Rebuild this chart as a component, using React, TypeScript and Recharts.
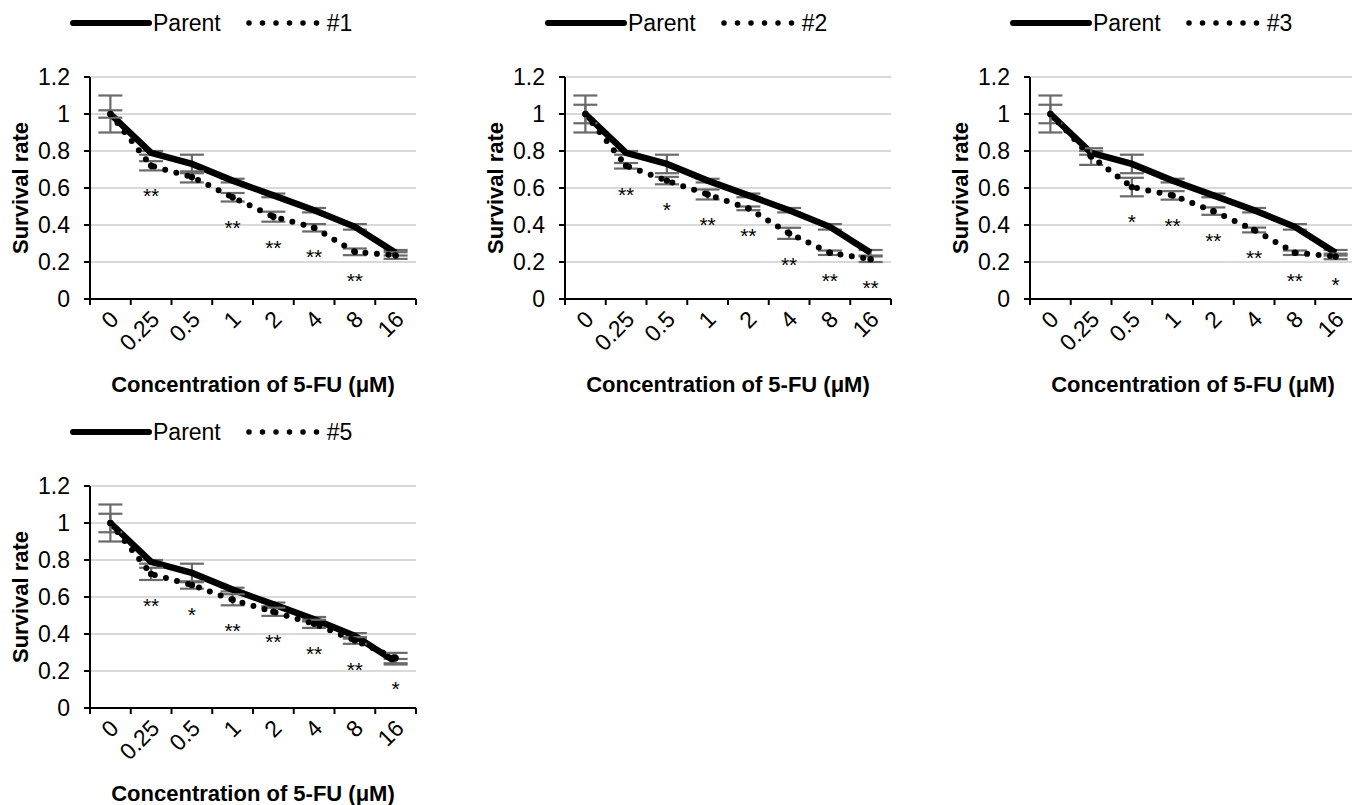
import { CartesianGrid, ErrorBar, Label, Legend, Line, LineChart, XAxis, YAxis } from "recharts";

const concentrations = ["0", "0.25", "0.5", "1", "2", "4", "8", "16"];

const parentRate = [1.0, 0.79, 0.73, 0.64, 0.56, 0.48, 0.39, 0.25];
const parentErr = [0.1, 0.01, 0.05, 0.01, 0.01, 0.012, 0.015, 0.015];

const clone1Rate = [1.0, 0.72, 0.66, 0.55, 0.445, 0.385, 0.255, 0.235];
const clone1Err = [0.02, 0.025, 0.03, 0.023, 0.027, 0.02, 0.018, 0.018];
const clone1Stars = ["", "**", "", "**", "**", "**", "**", ""];

const clone2Rate = [1.0, 0.72, 0.64, 0.565, 0.49, 0.355, 0.25, 0.215];
const clone2Err = [0.05, 0.015, 0.02, 0.027, 0.01, 0.03, 0.012, 0.015];
const clone2Stars = ["", "**", "*", "**", "**", "**", "**", "**"];

const clone3Rate = [1.0, 0.77, 0.605, 0.56, 0.475, 0.373, 0.25, 0.23];
const clone3Err = [0.05, 0.045, 0.05, 0.023, 0.02, 0.013, 0.012, 0.015];
const clone3Stars = ["", "", "*", "**", "**", "**", "**", "*"];

const clone5Rate = [1.0, 0.725, 0.665, 0.585, 0.52, 0.455, 0.365, 0.27];
const clone5Err = [0.05, 0.033, 0.02, 0.03, 0.022, 0.022, 0.018, 0.028];
const clone5Stars = ["", "**", "*", "**", "**", "**", "**", "*"];

const yTicks = [0, 0.2, 0.4, 0.6, 0.8, 1, 1.2];
const xTicks = Array.from({ length: 17 }, (_, i) => i / 2);

// layout
const CHART_W = 430;
const CHART_H = 409;
const PLOT_TOP = 77;
const PLOT_H = 222;
const Y_AXIS_W = 90;
const X_AXIS_H = 100;
const PX_PER_UNIT = PLOT_H / 1.2;
const FONT = '"Liberation Sans", Arial, sans-serif';
const ERR_GREY = "#6a6a6a";

const panels = [
  { name: "#1", rate: clone1Rate, err: clone1Err, stars: clone1Stars, left: 0, top: 0 },
  { name: "#2", rate: clone2Rate, err: clone2Err, stars: clone2Stars, left: 475, top: 0 },
  { name: "#3", rate: clone3Rate, err: clone3Err, stars: clone3Stars, left: 940, top: 0 },
  { name: "#5", rate: clone5Rate, err: clone5Err, stars: clone5Stars, left: 0, top: 409 },
];

const buildRows = (rate: number[], err: number[], stars: string[]) =>
  concentrations.map((c, i) => ({
    pos: i + 0.5,
    conc: c,
    parent: parentRate[i],
    parentErr: parentErr[i],
    clone: rate[i],
    cloneErr: err[i],
    stars: stars[i],
  }));

const ConcTick = (props: any) => {
  const { x, y, payload } = props;
  const v = payload.value as number;
  if (Number.isInteger(v)) {
    return <line x1={x} x2={x} y1={y - 6} y2={y} stroke="#000" strokeWidth={2} />;
  }
  const px = x + 4;
  const py = y + 10;
  return (
    <text
      x={px}
      y={py}
      dy="0.35em"
      transform={`rotate(-45, ${px}, ${py})`}
      textAnchor="end"
      fontSize={23}
      fill="#000"
    >
      {concentrations[Math.floor(v)]}
    </text>
  );
};

const cloneDot = (p: any) => {
  const { cx, cy, index, payload } = p;
  const starY = cy + payload.cloneErr * PX_PER_UNIT + 33;
  return (
    <g key={`d-${index}`}>
      <circle cx={cx} cy={cy} r={3.2} fill="#000" />
      {payload.stars ? (
        <text x={cx} y={starY} textAnchor="middle" fontSize={21} fill="#000">
          {payload.stars}
        </text>
      ) : null}
    </g>
  );
};

const PanelLegend = ({ name }: { name: string }) => (
  <div
    style={{
      display: "flex",
      alignItems: "center",
      fontSize: 23,
      lineHeight: "26px",
      color: "#000",
      whiteSpace: "nowrap",
      fontFamily: FONT,
    }}
  >
    <svg width={82} height={10}>
      <line x1={3} y1={5} x2={79} y2={5} stroke="#000" strokeWidth={6} strokeLinecap="round" />
    </svg>
    <span style={{ marginLeft: 1 }}>Parent</span>
    <svg width={74} height={10} style={{ marginLeft: 25 }}>
      <line
        x1={3}
        y1={5}
        x2={72}
        y2={5}
        stroke="#000"
        strokeWidth={5.5}
        strokeDasharray="0 13.5"
        strokeLinecap="round"
      />
    </svg>
    <span style={{ marginLeft: 7 }}>{name}</span>
  </div>
);

const SurvivalChart = ({ panel }: { panel: (typeof panels)[number] }) => {
  const rows = buildRows(panel.rate, panel.err, panel.stars);
  return (
    <LineChart
      width={CHART_W}
      height={CHART_H}
      data={rows}
      margin={{
        top: PLOT_TOP,
        right: CHART_W - Y_AXIS_W - 326,
        bottom: CHART_H - PLOT_TOP - PLOT_H - X_AXIS_H,
        left: 0,
      }}
    >
      <CartesianGrid vertical={false} stroke="#d9d9d9" strokeWidth={2} />
      <XAxis
        dataKey="pos"
        type="number"
        domain={[0, 8]}
        ticks={xTicks}
        interval={0}
        tick={<ConcTick />}
        tickLine={false}
        tickSize={6}
        tickMargin={0}
        axisLine={{ stroke: "#000", strokeWidth: 2 }}
        height={X_AXIS_H}
      >
        <Label
          value="Concentration of 5-FU (μM)"
          position="insideBottom"
          offset={7}
          fontSize={22}
          fontWeight={700}
          fill="#000"
        />
      </XAxis>
      <YAxis
        domain={[0, 1.2]}
        ticks={yTicks}
        width={Y_AXIS_W}
        tickSize={6}
        tickMargin={14}
        tick={{ fontSize: 23, fill: "#000" }}
        tickLine={{ stroke: "#000", strokeWidth: 2 }}
        axisLine={{ stroke: "#000", strokeWidth: 2 }}
      >
        <Label
          value="Survival rate"
          angle={-90}
          position="insideLeft"
          offset={20}
          fontSize={22}
          fontWeight={700}
          fill="#000"
          style={{ textAnchor: "middle" }}
        />
      </YAxis>
      <Legend
        layout="horizontal"
        verticalAlign="middle"
        align="center"
        wrapperStyle={{ top: 10, left: 70, width: "auto" }}
        content={() => <PanelLegend name={panel.name} />}
      />
      <Line
        dataKey="parent"
        name="Parent"
        stroke="#000"
        strokeWidth={6.5}
        dot={false}
        isAnimationActive={false}
      >
        <ErrorBar dataKey="parentErr" width={12} strokeWidth={2.2} stroke={ERR_GREY} direction="y" />
      </Line>
      <Line
        dataKey="clone"
        name={panel.name}
        stroke="#000"
        strokeWidth={6}
        strokeDasharray="0 11.5"
        strokeLinecap="round"
        dot={cloneDot}
        isAnimationActive={false}
      >
        <ErrorBar dataKey="cloneErr" width={12} strokeWidth={2.2} stroke={ERR_GREY} direction="y" />
      </Line>
    </LineChart>
  );
};

export default function App() {
  return (
    <div
      style={{
        position: "absolute",
        left: 0,
        top: 0,
        width: 1352,
        height: 805,
        overflow: "hidden",
        background: "#fff",
        fontFamily: FONT,
      }}
    >
      {panels.map((p) => (
        <div key={p.name} style={{ position: "absolute", left: p.left, top: p.top }}>
          <SurvivalChart panel={p} />
        </div>
      ))}
    </div>
  );
}
